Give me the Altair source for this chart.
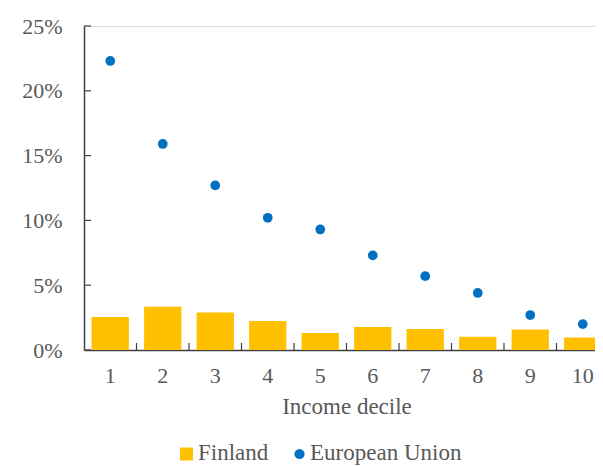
import altair as alt
import pandas as pd

deciles = list(range(1, 11))
finland = [2.54, 3.33, 2.90, 2.23, 1.31, 1.77, 1.62, 1.03, 1.59, 0.97]
european_union = [22.3, 15.9, 12.7, 10.2, 9.3, 7.3, 5.7, 4.4, 2.7, 2.0]
series_names = ["Finland", "European Union"]
series_colors = ["#FFC000", "#0070C0"]
y_tick_values = [0, 5, 10, 15, 20, 25]

W, H = 511, 324
FULL_W = 525
FONT = "Liberation Serif"
TXT = "#595959"
AX = "#404040"

fin_df = pd.DataFrame({"decile": deciles, "value": finland, "series": series_names[0]})
eu_df = pd.DataFrame({"decile": deciles, "value": european_union, "series": series_names[1]})
xtick_df = pd.DataFrame({"decile": deciles[1:]})
ytick_df = pd.DataFrame({"value": y_tick_values})

x_scale = alt.Scale(domain=deciles, paddingInner=0, paddingOuter=0, range=[0, FULL_W])
x_axis = alt.Axis(title="Income decile", labelAngle=0, ticks=False, grid=False,
                  domainColor=AX, domainWidth=1.5, labelFont=FONT, labelFontSize=22,
                  labelColor=TXT, labelPadding=15, titleFont=FONT, titleFontSize=23,
                  titleColor=TXT, titleFontWeight="normal", titlePadding=9, titleX=W / 2 + 7)
y_scale = alt.Scale(domain=[0, 25], nice=False)
y_axis = alt.Axis(title=None, values=y_tick_values, labelExpr="datum.value + '%'",
                  ticks=False, grid=False, domainColor=AX, domainWidth=1.5,
                  labelFont=FONT, labelFontSize=22, labelColor=TXT, labelPadding=22)

x_enc = alt.X("decile:O", scale=x_scale, axis=x_axis)
y_enc = alt.Y("value:Q", scale=y_scale, axis=y_axis)

bars = alt.Chart(fin_df).mark_bar(width=alt.RelativeBandSize(0.71), color=series_colors[0]).encode(
    x=x_enc, y=y_enc
)

points = alt.Chart(eu_df).mark_circle(size=95, opacity=1, color=series_colors[1]).encode(
    x=x_enc, y=y_enc,
)

xticks = alt.Chart(xtick_df).mark_rule(color=AX, strokeWidth=1.2).encode(
    x=alt.X("decile:O", scale=x_scale, axis=x_axis, bandPosition=0),
    y=alt.value(H), y2=alt.value(H - 7),
)

yticks = alt.Chart(ytick_df).mark_rule(color=AX, strokeWidth=1.2).encode(
    y=y_enc, x=alt.value(0), x2=alt.value(7),
)

# legend (below the plot)
LEG_SYM_Y = H + 104
LEG_TXT_Y = H + 110
leg_fin = pd.DataFrame({"series": [series_names[0]]})
leg_eu = pd.DataFrame({"series": [series_names[1]]})

leg_sq = alt.Chart(leg_fin).mark_square(size=169, opacity=1, color=series_colors[0]).encode(
    x=alt.value(102.5), y=alt.value(LEG_SYM_Y))
leg_sq_txt = alt.Chart(leg_fin).mark_text(align="left", baseline="alphabetic", font=FONT,
                                          fontSize=23, color=TXT).encode(
    text="series:N", x=alt.value(114), y=alt.value(LEG_TXT_Y))
leg_ci = alt.Chart(leg_eu).mark_circle(size=105, opacity=1, color=series_colors[1]).encode(
    x=alt.value(215.5), y=alt.value(LEG_SYM_Y))
leg_ci_txt = alt.Chart(leg_eu).mark_text(align="left", baseline="alphabetic", font=FONT,
                                         fontSize=23, color=TXT).encode(
    text="series:N", x=alt.value(226), y=alt.value(LEG_TXT_Y))

chart = alt.layer(bars, points, xticks, yticks, leg_sq, leg_sq_txt, leg_ci, leg_ci_txt).properties(
    width=W, height=H,
    autosize=alt.AutoSizeParams(type="none"),
    padding={"left": 76, "top": 18, "right": 0, "bottom": 120},
).configure_view(stroke=None, clip=False).configure(background="white", font=FONT)

chart.save("out.html", embed_options={"renderer": "svg", "actions": False})
